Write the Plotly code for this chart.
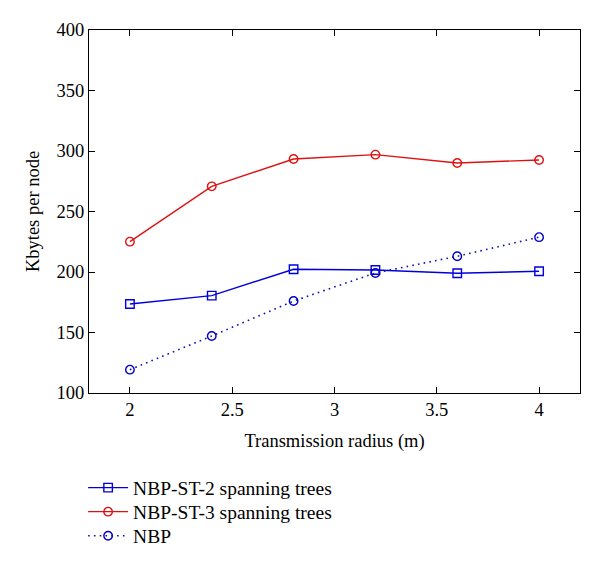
import plotly.graph_objects as go

radius = [2.0, 2.4, 2.8, 3.2, 3.6, 4.0]
st2 = [173.6, 180.5, 202.3, 201.7, 199.0, 200.6]
st3 = [225.1, 270.8, 293.4, 297.0, 290.1, 292.6]
nbp = [119.3, 147.1, 176.0, 199.2, 213.0, 228.8]

names = ["NBP-ST-2 spanning trees", "NBP-ST-3 spanning trees", "NBP"]
x_ticks = [2, 2.5, 3, 3.5, 4]
y_ticks = [100, 150, 200, 250, 300, 350, 400]

font_family = "Liberation Serif, Times New Roman, serif"

fig = go.Figure()
fig.add_trace(go.Scatter(x=radius, y=st2, name=names[0], mode="lines+markers", legend="legend",
                         line=dict(color="#0000dd", width=1.4),
                         marker=dict(symbol="square-open", size=8.5, color="#0000dd", line=dict(width=1.4))))
fig.add_trace(go.Scatter(x=radius, y=st3, name=names[1], mode="lines+markers", legend="legend2",
                         line=dict(color="#e01010", width=1.4),
                         marker=dict(symbol="circle-open", size=8.5, color="#e01010", line=dict(width=1.4))))
fig.add_trace(go.Scatter(x=radius, y=nbp, name=names[2], mode="lines+markers", legend="legend3",
                         line=dict(color="#1010b0", width=1.6, dash="1.6px,4.2px"),
                         marker=dict(symbol="circle-open", size=8.5, color="#0000cc", line=dict(width=1.4))))

axis_common = dict(showline=True, linecolor="black", linewidth=1, mirror="ticks",
                   ticks="inside", ticklen=6, tickcolor="black", showgrid=False,
                   zeroline=False, tickfont=dict(size=18.5, color="black"))

fig.update_xaxes(range=[1.8, 4.2], tickvals=x_ticks, ticktext=[str(t) for t in x_ticks],
                 title=dict(text="Transmission radius (m)", font=dict(size=18.5, color="black"), standoff=14),
                 **axis_common)
fig.update_yaxes(range=[100, 400], tickvals=y_ticks,
                 title=dict(text="Kbytes per node", font=dict(size=18.5, color="black"), standoff=12),
                 **axis_common)

leg_common = dict(x=-0.012, xanchor="left", yanchor="middle",
                  font=dict(size=19.5, color="black"), bgcolor="rgba(0,0,0,0)", itemwidth=40)

fig.update_layout(
    width=600, height=568,
    margin=dict(l=81, r=28, t=22, b=183),
    paper_bgcolor="white", plot_bgcolor="white",
    font=dict(family=font_family, size=18.5, color="black"),
    showlegend=True,
    legend=dict(y=-0.2617, **leg_common),
    legend2=dict(y=-0.3278, **leg_common),
    legend3=dict(y=-0.394, **leg_common),
)

fig.write_html("out.html")
